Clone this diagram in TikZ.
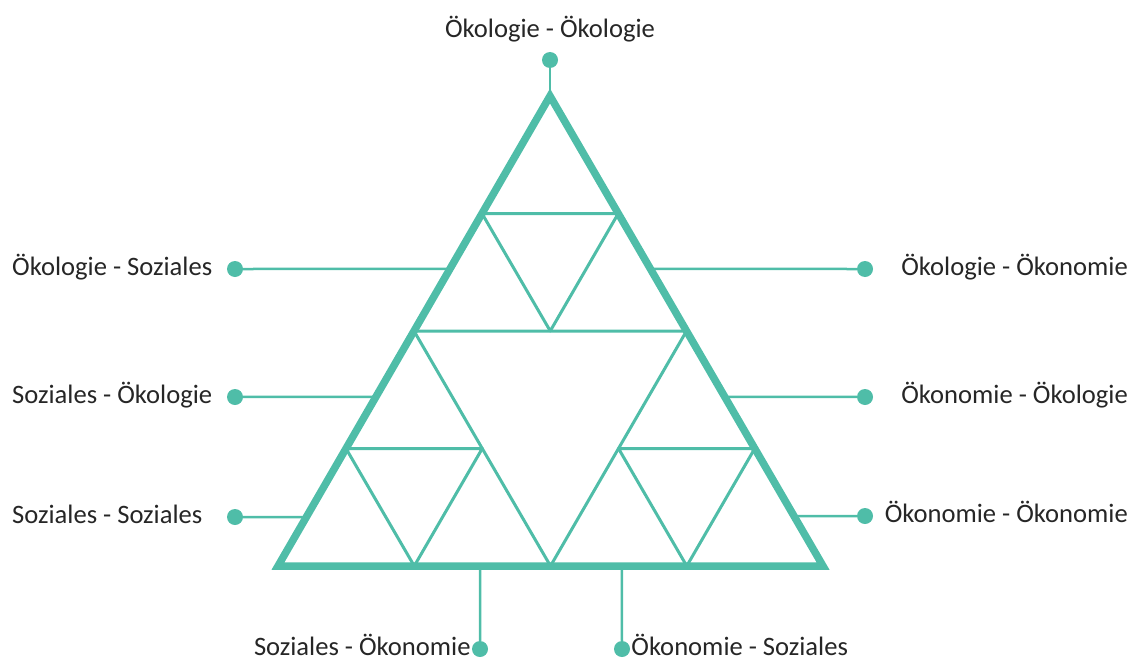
\documentclass[tikz,border=0pt]{standalone}
\usepackage{fontspec}
\setmainfont{Carlito}
\usetikzlibrary{positioning,calc}
\definecolor{tealgreen}{HTML}{4FBDA8}

\begin{document}
\begin{tikzpicture}[x=1pt,y=-1pt,font=\fontsize{26.6}{30}\selectfont]
	\useasboundingbox (0,0) rectangle (1131,661);

	\tikzset{dot/.style = {circle,fill=tealgreen,inner sep=0pt,minimum size=16pt}}
	\tikzset{lbl/.style = {inner sep=0pt,text height=18pt,text depth=6pt,text=black!85}}
	\tikzset{lowlbl/.style = {lbl,text height=14pt,text depth=2pt}}
	\tikzset{link/.style = {draw=tealgreen,line width=2.5pt}}
	\tikzset{outer/.style = {draw=tealgreen,line width=7.5pt,line join=miter}}
	\tikzset{inner/.style = {draw=tealgreen,line width=3pt,line join=round}}
	% vertices
	\coordinate (A) at (550,96);
	\coordinate (L) at (278,566);
	\coordinate (R) at (823,566);
	\coordinate (AL) at ($(A)!0.5!(L)$);
	\coordinate (AR) at ($(A)!0.5!(R)$);
	\coordinate (LR) at ($(L)!0.5!(R)$);
	% triangles
	\draw[inner] (AL) -- (AR) -- (LR) -- cycle;
	\draw[inner] ($(A)!0.5!(AL)$) -- ($(A)!0.5!(AR)$) -- ($(AL)!0.5!(AR)$) -- cycle;
	\draw[inner] ($(AL)!0.5!(L)$) -- ($(AL)!0.5!(LR)$) -- ($(L)!0.5!(LR)$) -- cycle;
	\draw[inner] ($(AR)!0.5!(LR)$) -- ($(AR)!0.5!(R)$) -- ($(LR)!0.5!(R)$) -- cycle;
	\draw[outer] (A) -- (L) -- (R) -- cycle;
	% points on the sides
	\coordinate (l1) at ($(A)!0.368!(L)$);
	\coordinate (l2) at ($(A)!0.640!(L)$);
	\coordinate (l3) at ($(A)!0.896!(L)$);
	\coordinate (r1) at ($(A)!0.368!(R)$);
	\coordinate (r2) at ($(A)!0.640!(R)$);
	\coordinate (r3) at ($(A)!0.894!(R)$);
	\coordinate (b1) at ($(L)!0.371!(R)$);
	\coordinate (b2) at ($(L)!0.631!(R)$);
	% dots
	\node[dot] (top) at (550,60) {};
	\node[dot] (dl1) at (235,269) {};
	\node[dot] (dl2) at (235,397) {};
	\node[dot] (dl3) at (235,517) {};
	\node[dot] (dr1) at (865,269) {};
	\node[dot] (dr2) at (865,397) {};
	\node[dot] (dr3) at (865,516) {};
	\node[dot] (db1) at (480,649) {};
	\node[dot] (db2) at (622,649) {};
	% links
	\draw[link] (top) -- (A);
	\draw[link] (dl1) -- (l1);
	\draw[link] (dl2) -- (l2);
	\draw[link] (dl3) -- (l3);
	\draw[link] (dr1) -- (r1);
	\draw[link] (dr2) -- (r2);
	\draw[link] (dr3) -- (r3);
	\draw[link] (db1) -- (b1);
	\draw[link] (db2) -- (b2);
	% labels
	\node[lbl,above=8pt of top] (ttop) {Ökologie - Ökologie};
	\node[lbl,anchor=west] (tl1) at (12,269) {Ökologie - Soziales};
	\node[lbl,anchor=west] (tl2) at (12,397) {Soziales - Ökologie};
	\node[lbl,anchor=west] (tl3) at (12,517) {Soziales - Soziales};
	\node[lbl,anchor=east] (tr1) at (1128,269) {Ökologie - Ökonomie};
	\node[lbl,anchor=east] (tr2) at (1128,397) {Ökonomie - Ökologie};
	\node[lbl,anchor=east] (tr3) at (1128,516) {Ökonomie - Ökonomie};
	\node[lowlbl,left=1pt of db1] (tb1) {Soziales - Ökonomie};
	\node[lowlbl,right=1pt of db2] (tb2) {Ökonomie - Soziales};
\end{tikzpicture}
\end{document}
